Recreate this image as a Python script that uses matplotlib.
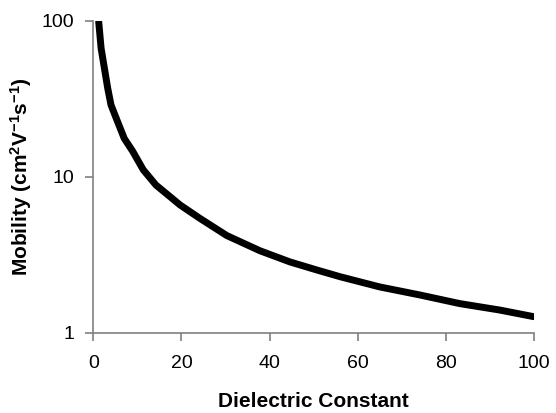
import matplotlib
matplotlib.use("Agg")
import matplotlib.pyplot as plt
from matplotlib.ticker import FixedLocator, NullLocator, FixedFormatter

plt.rcParams["font.family"] = ["Liberation Sans", "DejaVu Sans"]
plt.rcParams["mathtext.fontset"] = "custom"
plt.rcParams["mathtext.rm"] = "Liberation Sans"
plt.rcParams["mathtext.bf"] = "Liberation Sans:bold"
plt.rcParams["mathtext.default"] = "bf"

# values
dielectric = [1.2, 1.75, 2.5, 3.25, 4.0, 5.5, 7.0, 8.9, 11.3, 14.2, 19.7, 24.2,
              30.3, 37.8, 44.6, 50.7, 56, 65, 74.1, 83.2, 92.3, 100]
mobility = [98.6, 66.5, 49.5, 36.9, 28.8, 22.5, 17.6, 14.6, 11.1, 8.85, 6.59, 5.41,
            4.2, 3.36, 2.85, 2.53, 2.29, 1.97, 1.75, 1.54, 1.40, 1.27]

x_ticks = [0, 20, 40, 60, 80, 100]
y_ticks = [1, 10, 100]
y_labels = ["1", "10", "100"]

fig = plt.figure(figsize=(5.56, 4.13), dpi=100)
ax = fig.add_axes([0.168, 0.194, 0.792, 0.756])

ax.plot(dielectric, mobility, color="black", linewidth=5, solid_capstyle="round")

ax.set_yscale("log")
ax.set_xlim(0, 100)
ax.set_ylim(1, 100)
ax.set_xticks(x_ticks)
ax.yaxis.set_major_locator(FixedLocator(y_ticks))
ax.yaxis.set_major_formatter(FixedFormatter(y_labels))
ax.yaxis.set_minor_locator(NullLocator())

for side in ["top", "right"]:
    ax.spines[side].set_visible(False)
for side in ["left", "bottom"]:
    ax.spines[side].set_color("#808080")
    ax.spines[side].set_linewidth(1.2)
ax.tick_params(axis="both", direction="out", length=6, width=1.2, color="#808080",
               labelsize=14)
ax.tick_params(axis="x", pad=10)
ax.tick_params(axis="y", pad=8)

ax.set_xlabel("Dielectric Constant", fontsize=15, fontweight="bold", labelpad=14)
ax.set_ylabel("Mobility (cm$^{2}$V$^{-1}$s$^{-1}$)", fontsize=15, fontweight="bold", labelpad=5)

fig.savefig("out.png", dpi=100)
